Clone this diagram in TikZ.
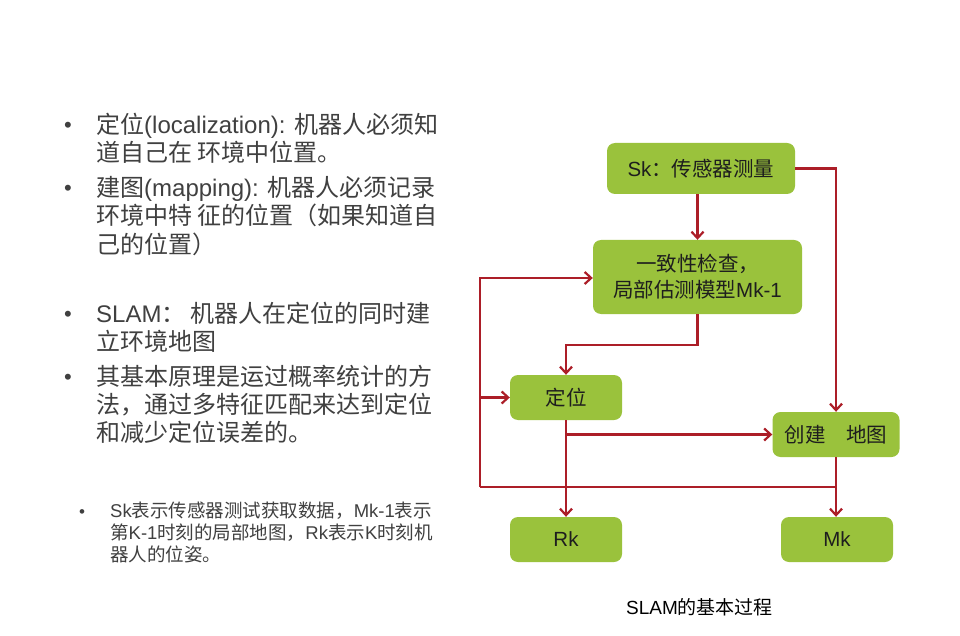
\documentclass[tikz,border=0pt]{standalone}
\usepackage{fontspec}
\setmainfont{Noto Sans CJK SC}
\newfontfamily\lat{Liberation Sans}
\usetikzlibrary{arrows.meta}
\definecolor{boxgreen}{RGB}{154,194,60}
\definecolor{linered}{RGB}{172,30,40}
\definecolor{txtgray}{RGB}{64,64,64}
\definecolor{boxtxt}{RGB}{30,30,30}
\begin{document}
\begin{tikzpicture}[x=1pt,y=-1pt,
 box/.style={rectangle, rounded corners=8pt, fill=boxgreen, text=boxtxt, inner sep=0pt, font=\fontsize{20.5}{26}\selectfont, align=center},
 arr/.style={draw=linered, line width=2.2pt, -{Straight Barb[length=6.5pt,width=12pt]}},
 ln/.style={draw=linered, line width=2.2pt},
 big/.style={anchor=base west, text=txtgray, inner sep=0pt, font=\fontsize{24}{28}\selectfont},
 small/.style={anchor=base west, text=txtgray, inner sep=0pt, font=\fontsize{18.5}{22}\selectfont},
 bul/.style={anchor=base, text=txtgray, inner sep=0pt, font=\lat\fontsize{22}{22}\selectfont},
 sbul/.style={anchor=base, text=txtgray, inner sep=0pt, font=\lat\fontsize{17}{17}\selectfont},
]
\fill[white] (0,0) rectangle (960,636);
\useasboundingbox (0,0) rectangle (960,636);

% left text
\node[bul] (b1) at (68,133) {•};
\node[big] (t1) at (96,134) {定位{\lat(localization): }机器人必须知};
\node[big] (t2) at (96,162) {道自己在 环境中位置。};
\node[bul] (b2) at (68,196) {•};
\node[big] (t3) at (96,197) {建图{\lat(mapping): }机器人必须记录};
\node[big] (t4) at (96,225) {环境中特 征的位置（如果知道自};
\node[big] (t5) at (96,253) {己的位置）};

\node[bul] (b3) at (68,321) {•};
\node[big] (t6) at (96,322) {{\lat SLAM}：\ 机器人在定位的同时建};
\node[big] (t7) at (96,350) {立环境地图};
\node[bul] (b4) at (68,384) {•};
\node[big] (t8) at (96,385) {其基本原理是运过概率统计的方};
\node[big] (t9) at (96,413) {法，通过多特征匹配来达到定位};
\node[big] (t10) at (96,441) {和减少定位误差的。};

\node[sbul] (b5) at (82,517) {•};
\node[small] (s1) at (110,517) {{\lat Sk}表示传感器测试获取数据，{\lat Mk-1}表示};
\node[small] (s2) at (110,539) {第{\lat K-1}时刻的局部地图，{\lat Rk}表示{\lat K}时刻机};
\node[small] (s3) at (110,561) {器人的位姿。};

% diagram boxes
\node[box, minimum width=188pt, minimum height=51pt] (sk) at (701,168.5) {{\lat Sk}：传感器测量};
\node[box, minimum width=209pt, minimum height=74pt] (chk) at (697.5,277) {一致性检查，\\局部估测模型{\lat Mk-1}};
\node[box, minimum width=112pt, minimum height=45pt] (loc) at (566,397.5) {定位};
\node[box, minimum width=127pt, minimum height=45pt] (map) at (836,434.5) {创建　地图};
\node[box, minimum width=112pt, minimum height=45pt, font=\lat\fontsize{20.5}{26}\selectfont] (rk) at (566,539.5) {Rk};
\node[box, minimum width=112pt, minimum height=45pt, font=\lat\fontsize{20.5}{26}\selectfont] (mk) at (837,539.5) {Mk};

% connectors
\coordinate (k1) at (697.5,345);
\coordinate (lt) at (480,278);
\coordinate (lb) at (480,487);
\draw[arr] (sk.east) -| (map.north);
\draw[arr] (chk.north |- sk.south) -- (chk.north);
\draw[arr] (chk.south) -- (k1) -| (loc.north);
\draw[arr] (lb) -- (lt) -- (lt -| chk.west);
\draw[arr] (lb |- loc.west) -- (loc.west);
\draw[ln] (lb) -- (lb -| map.south);
\draw[arr] (loc.south) -- (rk.north);
\draw[arr] (loc.south |- map.west) -- (map.west);
\draw[arr] (map.south) -- (map.south |- mk.north);

% caption
\node[anchor=base west, inner sep=0pt, text=black, font=\fontsize{19}{22}\selectfont] (cap) at (626,614) {{\lat SLAM}的基本过程};
\end{tikzpicture}
\end{document}
